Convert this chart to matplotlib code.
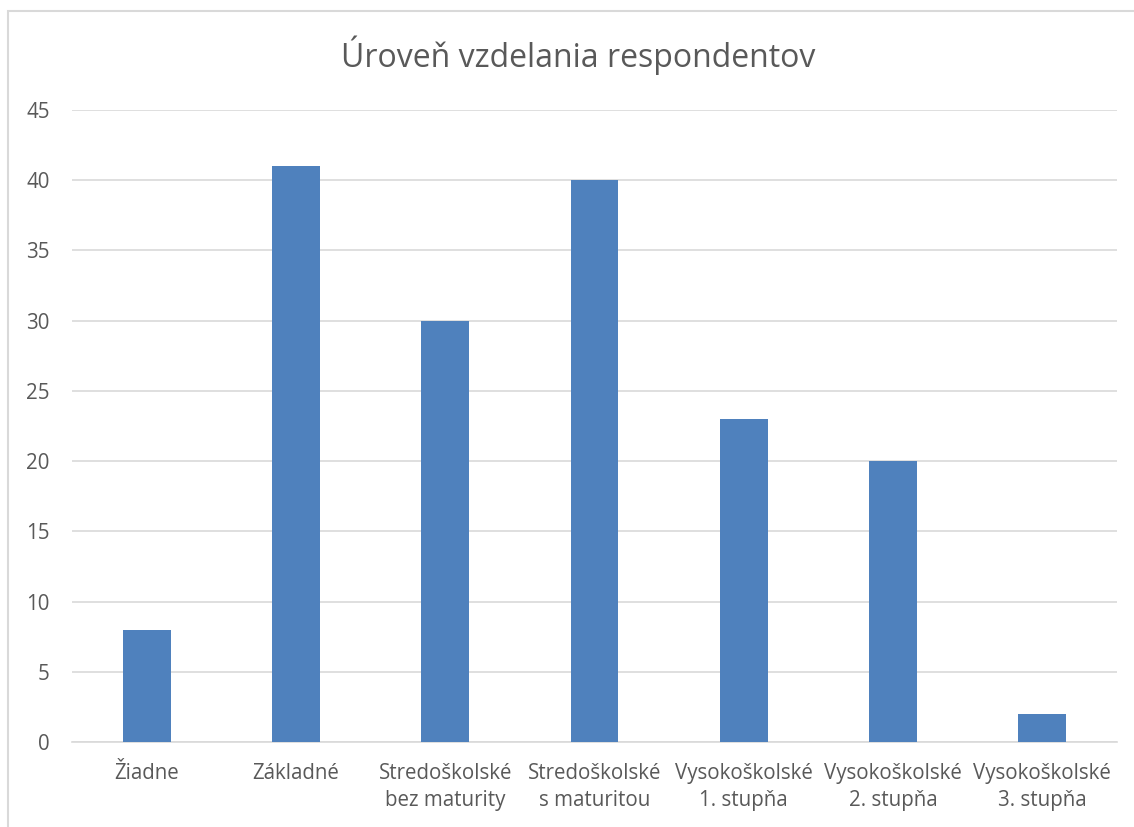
import matplotlib.pyplot as plt
from matplotlib.patches import Rectangle

categories = ["Žiadne", "Základné", "Stredoškolské\nbez maturity", "Stredoškolské\ns maturitou",
              "Vysokoškolské\n1. stupňa", "Vysokoškolské\n2. stupňa", "Vysokoškolské\n3. stupňa"]
counts = [8, 41, 30, 40, 23, 20, 2]
yticks = list(range(0, 50, 5))

TEXT = "#595959"
BAR = "#4f81bd"

plt.rcParams['font.family'] = ['Open Sans', 'DejaVu Sans']

fig = plt.figure(figsize=(11.34, 8.27), dpi=100)
# chart border (only left/top visible in the reference)
fig.patches.append(Rectangle((8 / 1134, -0.1), 1.2, 1 - 11 / 827 + 0.1, transform=fig.transFigure,
                             fill=False, edgecolor="#d9d9d9", linewidth=1.5))

ax = fig.add_axes([72 / 1134, (827 - 742) / 827, (1117 - 72) / 1134, (742 - 110) / 827])
x = range(len(categories))
ax.bar(x, counts, width=0.32, color=BAR, zorder=3)

ax.set_xlim(-0.5, len(categories) - 0.5)
ax.set_ylim(0, 45)
ax.set_yticks(yticks)
ax.set_xticks(list(x))
ax.set_xticklabels(categories, fontsize=14.8, color=TEXT, linespacing=1.4)
ax.tick_params(axis='y', labelsize=14.8, labelcolor=TEXT, length=0, pad=16)
ax.tick_params(axis='x', length=0, pad=15)
ax.grid(axis='y', color="#d9d9d9", linewidth=1.2, zorder=0)
for s in ['top', 'right', 'left']:
    ax.spines[s].set_visible(False)
ax.spines['bottom'].set_color("#d9d9d9")
ax.spines['bottom'].set_linewidth(1.2)

fig.text(578 / 1134, 1 - 55 / 827, "Úroveň vzdelania respondentov", ha='center', va='center',
         fontsize=23, color=TEXT)

fig.savefig("out.png", dpi=100)
